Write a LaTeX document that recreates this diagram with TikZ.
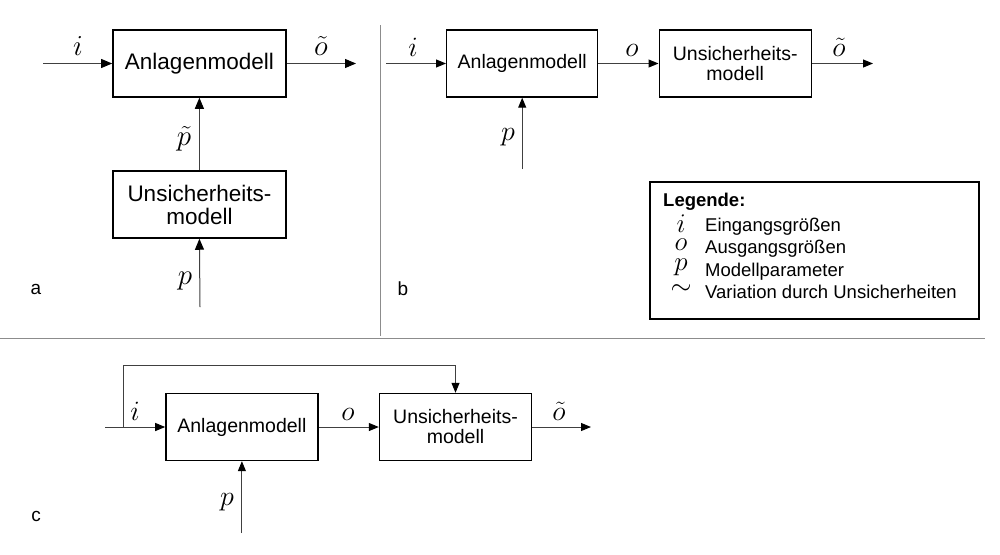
\RequirePackage{fix-cm}
\documentclass[tikz,border=0pt]{standalone}
\usepackage{fontspec}
\setmainfont{Liberation Sans}
\usetikzlibrary{arrows.meta}
\begin{document}
\begin{tikzpicture}[x=1pt,y=-1pt,
  blk/.style={draw=black,line width=1.4pt,minimum width=152pt,minimum height=67pt,inner sep=0pt,align=center,font=\fontsize{19.5}{22}\selectfont},
  blka/.style={blk,line width=1.5pt,minimum width=173pt,font=\fontsize{22.5}{25}\selectfont},
  con/.style={draw=black!75,line width=1pt,-{Triangle[length=10pt,width=8pt,fill=black,color=black]}},
  cona/.style={con,-{Triangle[length=11pt,width=9pt,fill=black,color=black]}},
  lbl/.style={inner sep=0pt,font=\fontsize{28}{30}\selectfont},
  lbla/.style={inner sep=0pt,font=\fontsize{29}{32}\selectfont},
  sep/.style={draw=black!45,line width=1pt},
  tag/.style={inner sep=0pt,font=\fontsize{19}{22}\selectfont},
  lsym/.style={inner sep=0pt,anchor=base,font=\fontsize{27}{28}\selectfont},
  leg/.style={inner sep=0pt,anchor=base west,font=\fontsize{18.5}{21}\selectfont}]
\useasboundingbox (0,0) rectangle (1000,554);
% separators
\coordinate (s1) at (380,25); \coordinate (s2) at (380,336);
\draw[sep] (s1) -- (s2);
\coordinate (h1) at (0,338); \coordinate (h2) at (985,338);
\draw[sep] (h1) -- (h2);
% panel a
\node[blka] (A1) at (199.4,63.5) {Anlagenmodell};
\node[blka] (U1) at (199.4,204.5) {Unsicherheits-\\[-2pt]modell};
\coordinate (ai) at (43,63.5); \coordinate (ao) at (356,63.5); \coordinate (ap) at (200,307);
\draw[cona] (ai) -- (A1.west);
\draw[cona] (A1.east) -- (ao);
\draw[cona] (U1.north) -- (A1.south);
\draw[cona] (ap) -- (U1.south);
\node[lbla] (ali) at (78,46) {$i$};
\node[lbla] (alo) at (321,46) {$\tilde{o}$};
\node[lbla] (alp) at (184,139) {$\tilde{p}$};
\node[lbla] (alp2) at (185,281) {$p$};
\node[tag] (ta) at (36,289) {a};
% panel b
\node[blk,minimum width=151pt] (A2) at (522.2,63.5) {Anlagenmodell};
\node[blk] (U2) at (735.2,63.5) {Unsicherheits-\\[-2pt]modell};
\coordinate (bi) at (386,63.5); \coordinate (bo) at (873,63.5); \coordinate (bp) at (522.2,169);
\draw[con] (bi) -- (A2.west);
\draw[con] (A2.east) -- (U2.west);
\draw[con] (U2.east) -- (bo);
\draw[con] (bp) -- (A2.south);
\node[lbl] (bli) at (413,47) {$i$};
\node[lbl] (blo) at (632,50) {$o$};
\node[lbl] (blo2) at (839,47) {$\tilde{o}$};
\node[lbl] (blp) at (508,137) {$p$};
\node[tag] (tb) at (403,289) {b};
% legend
\node[draw=black,line width=1.5pt,minimum width=329pt,minimum height=137pt,inner sep=0pt] (L) at (814.5,250.5) {};
\node[leg,font=\fontsize{18.5}{21}\selectfont\bfseries] (L0) at (663,206.5) {Legende:};
\node[lsym] (Li) at (681,232) {$i$};
\node[lsym] (Lo) at (681,250) {$o$};
\node[lsym] (Lp) at (681,270.5) {$p$};
\node[lsym,anchor=center] (Lt) at (681,290) {$\sim$};
\node[leg] (L1) at (705,231.5) {Eingangsgrößen};
\node[leg] (L2) at (705,253) {Ausgangsgrößen};
\node[leg] (L3) at (705,276) {Modellparameter};
\node[leg] (L4) at (705,298) {Variation durch Unsicherheiten};
% panel c
\node[blk] (A3) at (241.9,427) {Anlagenmodell};
\node[blk] (U3) at (455.5,427) {Unsicherheits-\\[-2pt]modell};
\coordinate (ci) at (105,427); \coordinate (cb) at (123.3,427);
\coordinate (cu) at (123.3,365); \coordinate (cr) at (455.5,365);
\coordinate (co) at (591,427); \coordinate (cp) at (241.9,533);
\draw[con] (ci) -- (A3.west);
\draw[con] (cb) -- (cu) -- (cr) -- (U3.north);
\draw[con] (A3.east) -- (U3.west);
\draw[con] (U3.east) -- (co);
\draw[con] (cp) -- (A3.south);
\node[lbl] (cli) at (135,411) {$i$};
\node[lbl] (clo) at (348,414) {$o$};
\node[lbl] (clo2) at (559,411) {$\tilde{o}$};
\node[lbl] (clp) at (227,502) {$p$};
\node[tag] (tc) at (36,516) {c};
\end{tikzpicture}
\end{document}
